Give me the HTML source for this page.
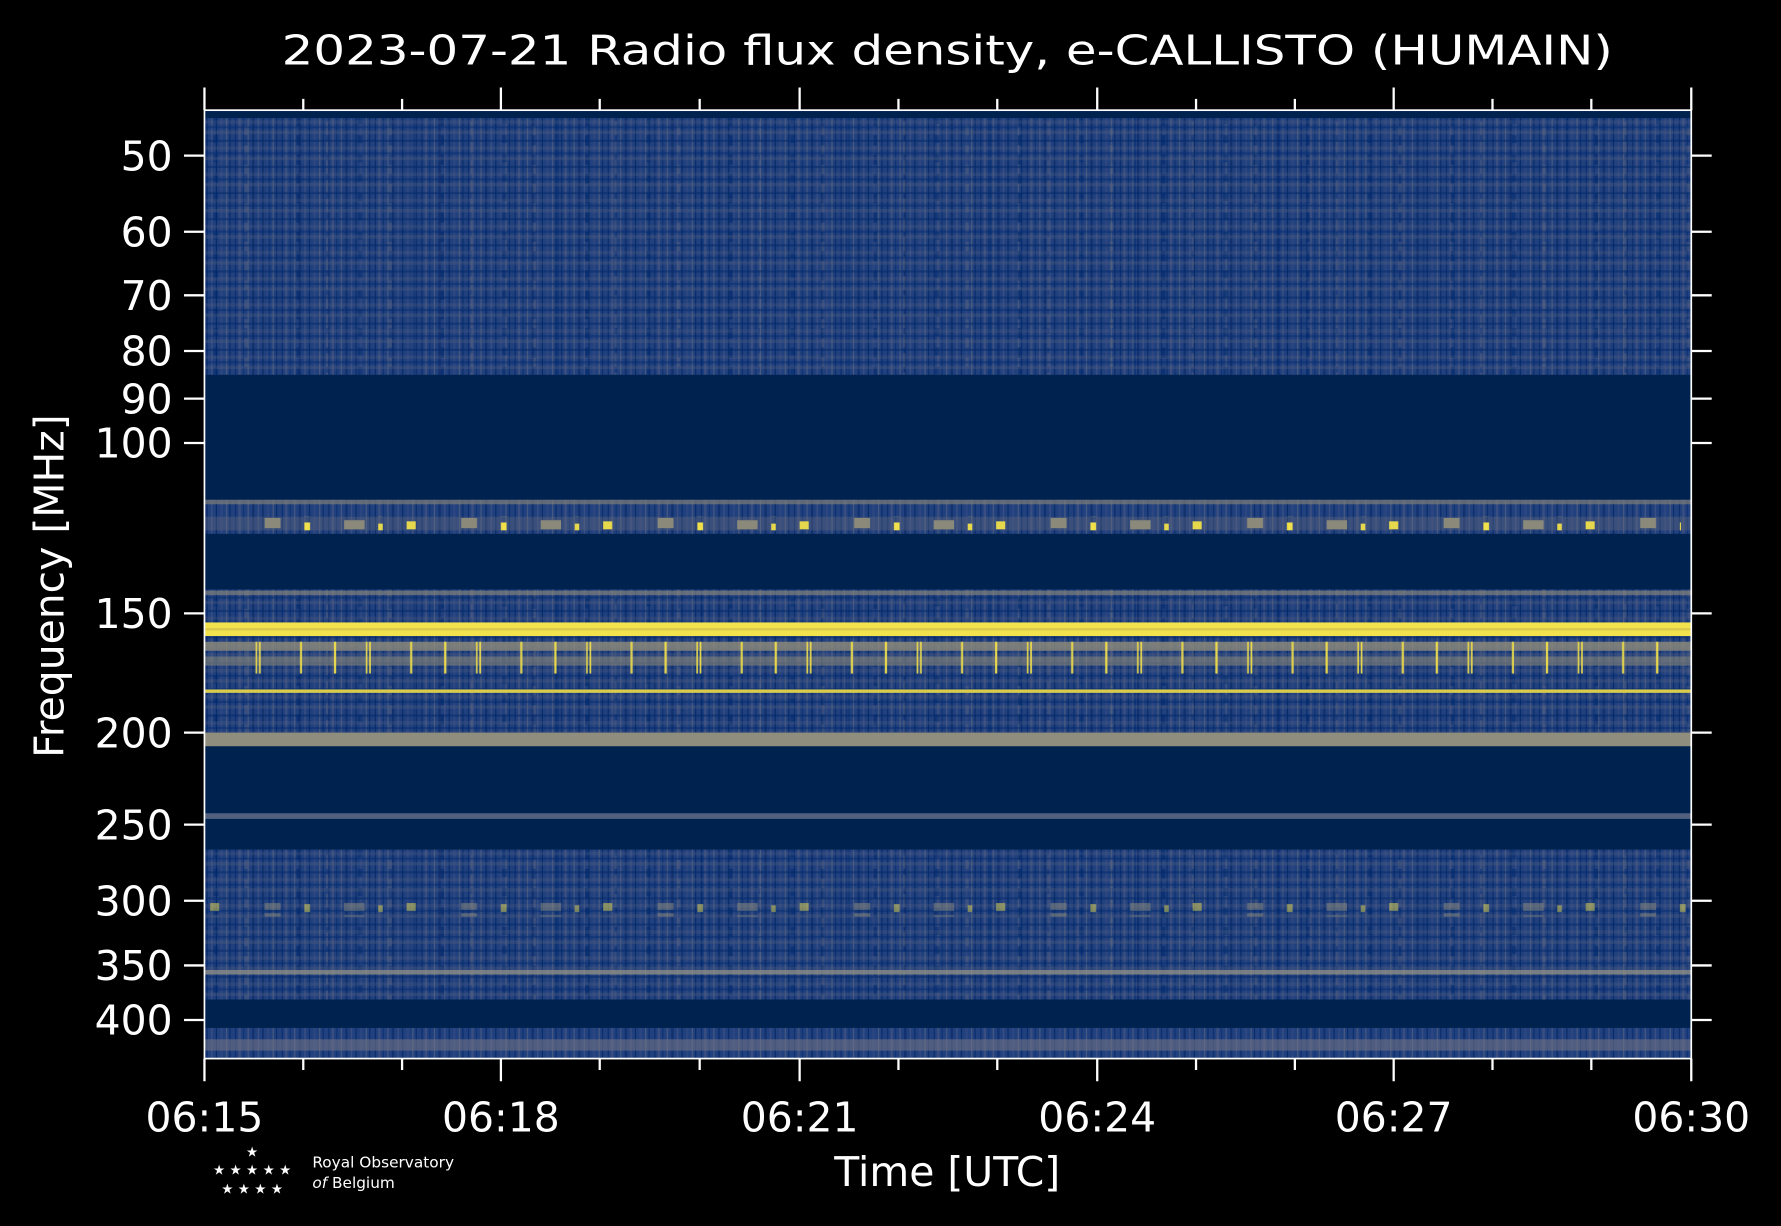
<!DOCTYPE html>
<html><head><meta charset="utf-8"><style>
html,body{margin:0;padding:0;background:#000;}
svg{display:block}
text{font-family:"DejaVu Sans","Liberation Sans",sans-serif;fill:#fff}
</style></head><body>
<svg width="1781" height="1226" viewBox="0 0 1568 1079.4" preserveAspectRatio="none" xmlns="http://www.w3.org/2000/svg">
<defs>
<pattern id="vs" width="41" height="10" patternUnits="userSpaceOnUse">
<rect width="41" height="10" fill="#21407e"/>
<rect x="2" width="1" height="10" fill="#0a2c6c"/>
<rect x="5" width="2" height="10" fill="#3a4f80" />
<rect x="9" width="1" height="10" fill="#0d3272"/>
<rect x="13" width="1" height="10" fill="#485a80"/>
<rect x="17" width="2" height="10" fill="#11306e"/>
<rect x="22" width="1" height="10" fill="#3e5283"/>
<rect x="26" width="1" height="10" fill="#062a66"/>
<rect x="30" width="2" height="10" fill="#2c4680"/>
<rect x="35" width="1" height="10" fill="#4a5b7e"/>
<rect x="38" width="1" height="10" fill="#082b6a"/>
</pattern>
<pattern id="v2" width="127" height="17" patternUnits="userSpaceOnUse">
<rect x="7" width="3" height="9" fill="#00286e" opacity="0.6"/>
<rect x="33" y="5" width="2" height="12" fill="#56607e" opacity="0.5"/>
<rect x="61" width="4" height="7" fill="#00296f" opacity="0.5"/>
<rect x="88" y="9" width="3" height="8" fill="#5d6680" opacity="0.4"/>
<rect x="109" width="2" height="17" fill="#002a72" opacity="0.5"/>
</pattern>
<pattern id="hs" width="10" height="23" patternUnits="userSpaceOnUse">
<rect y="0" width="10" height="3" fill="#5a6480" opacity="0.3"/>
<rect y="8" width="10" height="2" fill="#00286a" opacity="0.5"/>
<rect y="14" width="10" height="3" fill="#6a6e80" opacity="0.2"/>
<rect y="19" width="10" height="2" fill="#002a70" opacity="0.45"/>
</pattern>
<pattern id="yl" width="97" height="30" patternUnits="userSpaceOnUse">
<rect x="3" width="2" height="30" fill="#f5e34a"/>
<rect x="31" width="1.5" height="30" fill="#e8d94c"/>
<rect x="34" width="1.5" height="30" fill="#f5e34a"/>
<rect x="70" width="2" height="30" fill="#e8d94c"/>
</pattern>
<pattern id="yb" width="173" height="12" patternUnits="userSpaceOnUse">
<rect x="12" y="3" width="8" height="7" fill="#e6d84c"/>
<rect x="60" y="0" width="14" height="9" fill="#8b897a"/>
<rect x="95" y="4" width="5" height="7" fill="#f0e04c"/>
<rect x="130" y="2" width="18" height="8" fill="#8b897a"/>
<rect x="160" y="5" width="4" height="6" fill="#e6d84c"/>
</pattern>
</defs>
<rect width="1568" height="1079.4" fill="#000"/>
<text x="834" y="57" font-size="36" text-anchor="middle" textLength="1172" lengthAdjust="spacingAndGlyphs">2023-07-21 Radio flux density, e-CALLISTO (HUMAIN)</text>
<g>
<rect x="180" y="97" width="1309" height="835" fill="#00224e"/>
<rect x="180" y="104" width="1309" height="226" fill="url(#vs)"/>
<rect x="180" y="104" width="1309" height="226" fill="url(#v2)"/>
<rect x="180" y="104" width="1309" height="226" fill="url(#hs)"/>
<rect x="180" y="440" width="1309" height="30" fill="url(#vs)"/>
<rect x="180" y="440" width="1309" height="4" fill="#7d7c78" opacity="0.7"/>
<rect x="180" y="455" width="1309" height="12" fill="#6b6d78" opacity="0.35"/>
<rect x="200" y="455" width="1280" height="12" fill="url(#yb)"/>
<rect x="180" y="519" width="1309" height="126" fill="url(#vs)"/>
<rect x="180" y="519" width="1309" height="126" fill="url(#v2)"/>
<rect x="180" y="519" width="1309" height="126" fill="url(#hs)"/>
<rect x="180" y="520" width="1309" height="4" fill="#8a877a" opacity="0.6"/>
<rect x="180" y="548" width="1309" height="12" fill="#f2e24e"/>
<rect x="180" y="553" width="1309" height="2" fill="#d8c94c"/>
<rect x="180" y="565" width="1309" height="8" fill="#8e8b7a" opacity="0.8"/>
<rect x="180" y="578" width="1309" height="8" fill="#8e8b7a" opacity="0.6"/>
<rect x="200" y="565" width="1280" height="28" fill="url(#yl)" opacity="0.9"/>
<rect x="180" y="607" width="1309" height="3" fill="#d9cb4e"/>
<rect x="180" y="645" width="1309" height="12" fill="#8f8d7d"/>
<rect x="180" y="716" width="1309" height="5" fill="#51607e"/>
<rect x="180" y="748" width="1309" height="132" fill="url(#vs)"/>
<rect x="180" y="748" width="1309" height="132" fill="url(#v2)"/>
<rect x="180" y="748" width="1309" height="132" fill="url(#hs)"/>
<rect x="180" y="795" width="1309" height="12" fill="url(#yb)" opacity="0.5"/>
<rect x="180" y="854" width="1309" height="4" fill="#8f8e86" opacity="0.8"/>
<rect x="180" y="905" width="1309" height="27" fill="url(#vs)"/>
<rect x="180" y="915" width="1309" height="10" fill="#6f7284" opacity="0.6"/>
</g>
<rect x="180" y="97" width="1309" height="835" fill="none" stroke="#fff" stroke-width="1.5"/>
<g stroke="#fff" stroke-width="2">
<path d="M180 97v-20M441 97v-20M704 97v-20M966 97v-20M1227 97v-20M1489 97v-20M180 932v20M441 932v20M704 932v20M966 932v20M1227 932v20M1489 932v20"/>
<path d="M267 97v-10M354 97v-10M528 97v-10M616 97v-10M791 97v-10M878 97v-10M1053 97v-10M1140 97v-10M1314 97v-10M1401 97v-10M267 932v10M354 932v10M528 932v10M616 932v10M791 932v10M878 932v10M1053 932v10M1140 932v10M1314 932v10M1401 932v10"/>
<path d="M162 137h18M162 204h18M162 260h18M162 309h18M162 351h18M162 390h18M162 540h18M162 645h18M162 726h18M162 793h18M162 850h18M162 898h18M1489 137h18M1489 204h18M1489 260h18M1489 309h18M1489 351h18M1489 390h18M1489 540h18M1489 645h18M1489 726h18M1489 793h18M1489 850h18M1489 898h18"/>
</g>
<g font-size="36" text-anchor="end">
<text x="152" y="150">50</text><text x="152" y="217">60</text><text x="152" y="273">70</text><text x="152" y="322">80</text><text x="152" y="364">90</text><text x="152" y="403">100</text><text x="152" y="553">150</text><text x="152" y="658">200</text><text x="152" y="739">250</text><text x="152" y="806">300</text><text x="152" y="863">350</text><text x="152" y="911">400</text>
</g>
<g font-size="36" text-anchor="middle">
<text x="180" y="996">06:15</text><text x="441" y="996">06:18</text><text x="704" y="996">06:21</text><text x="966" y="996">06:24</text><text x="1227" y="996">06:27</text><text x="1489" y="996">06:30</text>
<text x="834" y="1044">Time [UTC]</text>
<text transform="translate(56 516) rotate(-90)">Frequency [MHz]</text>
</g>
<g font-size="12">
<text x="222" y="1018" text-anchor="middle">★</text>
<text x="222" y="1034" text-anchor="middle">★ ★ ★ ★ ★</text>
<text x="222" y="1051" text-anchor="middle">★ ★ ★ ★</text>
</g>
<g font-size="13.5">
<text x="275" y="1028">Royal Observatory</text>
<text x="275" y="1046"><tspan font-style="italic">of</tspan> Belgium</text>
</g>
</svg>
</body></html>
